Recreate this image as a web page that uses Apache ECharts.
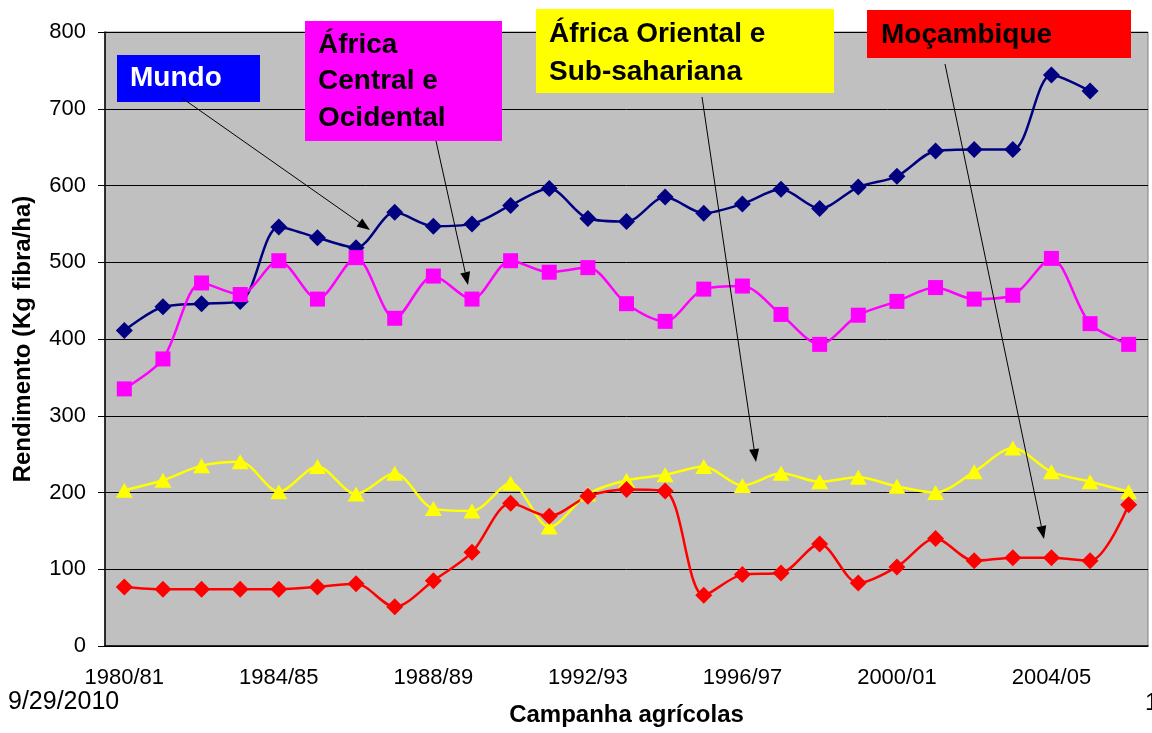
<!DOCTYPE html>
<html>
<head>
<meta charset="utf-8">
<title>Rendimento do algodão</title>
<script src="https://cdn.jsdelivr.net/npm/echarts@6/dist/echarts.min.js"></script>
<style>
    html, body { margin: 0; padding: 0; background: #fff; }
    #main { width: 1152px; height: 733px; }
</style>
</head>
<body>
<div id="main"></div>
<script>
// campanhas agrícolas (eixo x)
var campanhas = ['1980/81', '1981/82', '1982/83', '1983/84', '1984/85', '1985/86', '1986/87',
    '1987/88', '1988/89', '1989/90', '1990/91', '1991/92', '1992/93', '1993/94', '1994/95',
    '1995/96', '1996/97', '1997/98', '1998/99', '1999/00', '2000/01', '2001/02', '2002/03',
    '2003/04', '2004/05', '2005/06', '2006/07'];

// rendimento em Kg fibra/ha
var mundo = [411, 442, 446, 449, 546, 532, 519, 565, 547, 550, 574, 596, 557, 553,
    585, 564, 576, 595, 570, 598, 612, 645, 647, 647, 744, 723];
var africaCentral = [335, 374, 473, 458, 502, 452, 506, 427, 482, 452, 502, 487, 493, 446,
    423, 465, 469, 432, 393, 431, 449, 467, 452, 457, 505, 420, 393];
var africaOriental = [203, 216, 235, 240, 201, 234, 198, 225, 179, 176, 212, 155, 198, 216,
    223, 234, 209, 225, 214, 220, 208, 200, 227, 258, 227, 214, 201];
var mocambique = [77, 74, 74, 74, 74, 77, 81, 51, 85, 122, 186, 169, 195, 204,
    202, 66, 93, 95, 133, 82, 103, 140, 111, 115, 115, 111, 184];

var yMin = 0, yMax = 800, yStep = 100;

var FONT = '"Liberation Sans", Arial, sans-serif';

// seta preta do rótulo até a curva
function arrow(x1, y1, x2, y2) {
    var ang = Math.atan2(y2 - y1, x2 - x1);
    var len = 13, half = 5;
    var bx = x2 - len * Math.cos(ang), by = y2 - len * Math.sin(ang);
    var px = -Math.sin(ang) * half, py = Math.cos(ang) * half;
    return [{
        type: 'line', z: 100,
        shape: { x1: x1, y1: y1, x2: bx, y2: by },
        style: { stroke: '#000', lineWidth: 1 }
    }, {
        type: 'polygon', z: 100,
        shape: { points: [[x2, y2], [bx + px, by + py], [bx - px, by - py]] },
        style: { fill: '#000' }
    }];
}

function box(x, y, w, h, color, text, tx, ty, textColor, lh) {
    return [{
        type: 'rect', z: 90,
        shape: { x: x, y: y, width: w, height: h },
        style: { fill: color }
    }, {
        type: 'text', z: 91, x: tx, y: ty,
        style: {
            text: text, fill: textColor, font: 'bold 28px ' + FONT,
            lineHeight: lh, verticalAlign: 'top'
        }
    }];
}

var graphics = []
    .concat(box(117, 55, 143, 47, '#0000FF', 'Mundo', 130, 60, '#fff', 36))
    .concat(box(305, 21, 197, 120, '#FF00FF', 'África\nCentral e\nOcidental', 318, 27, '#000', 36.5))
    .concat(box(536, 9, 298, 84, '#FFFF00', 'África Oriental e\nSub-sahariana', 549, 15, '#000', 38))
    .concat(box(867, 10, 264, 48, '#FF0000', 'Moçambique', 881, 17, '#000', 36))
    .concat(arrow(182, 98, 370, 230))
    .concat(arrow(436, 141, 468, 285))
    .concat(arrow(702, 97, 756, 462))
    .concat(arrow(945, 64, 1044, 539))
    .concat([{
        type: 'text', left: 8, top: 690,
        style: { text: '9/29/2010', fill: '#000', font: '25px ' + FONT }
    }, {
        type: 'text', left: 1145, top: 691,
        style: { text: '1', fill: '#000', font: '24px ' + FONT }
    }]);

function serie(name, data, color, symbol, size) {
    return {
        name: name,
        type: 'line',
        data: data,
        smooth: 0.3,
        symbol: symbol,
        symbolSize: size,
        showSymbol: true,
        lineStyle: { color: color, width: 2.5 },
        itemStyle: { color: color },
        emphasis: { disabled: true }
    };
}

var myChart = echarts.init(document.getElementById('main'));
myChart.setOption({
    animation: false,
    textStyle: { fontFamily: FONT },
    grid: {
        left: 105, right: 4, top: 32, bottom: 87,
        show: true,
        backgroundColor: '#C0C0C0',
        borderColor: '#808080',
        borderWidth: 1
    },
    xAxis: {
        type: 'category',
        data: campanhas,
        boundaryGap: true,
        name: 'Campanha agrícolas',
        nameLocation: 'middle',
        nameGap: 57,
        nameTextStyle: { fontSize: 24, fontWeight: 'bold', color: '#000' },
        axisLine: { lineStyle: { color: '#000', width: 1.5 } },
        axisTick: { interval: 3, length: 7, lineStyle: { color: '#000' } },
        axisLabel: { interval: 3, fontSize: 22, color: '#000', margin: 21 },
        splitLine: { show: false }
    },
    yAxis: {
        type: 'value',
        min: yMin,
        max: yMax,
        interval: yStep,
        name: 'Rendimento (Kg fibra/ha)',
        nameLocation: 'middle',
        nameGap: 70,
        nameTextStyle: { fontSize: 24, fontWeight: 'bold', color: '#000' },
        axisLine: { show: true, lineStyle: { color: '#000', width: 1.5 } },
        axisTick: { show: true, length: 7, lineStyle: { color: '#000' } },
        axisLabel: { fontSize: 22, color: '#000', margin: 19 },
        splitLine: { lineStyle: { color: '#000', width: 1 } }
    },
    series: [
        serie('Mundo', mundo, '#000080', 'diamond', 17),
        serie('África Central e Ocidental', africaCentral, '#FF00FF', 'rect', 15),
        serie('África Oriental e Sub-sahariana', africaOriental, '#FFFF00', 'triangle', [17, 15]),
        serie('Moçambique', mocambique, '#FF0000', 'diamond', 17)
    ],
    graphic: graphics
});
</script>
</body>
</html>
